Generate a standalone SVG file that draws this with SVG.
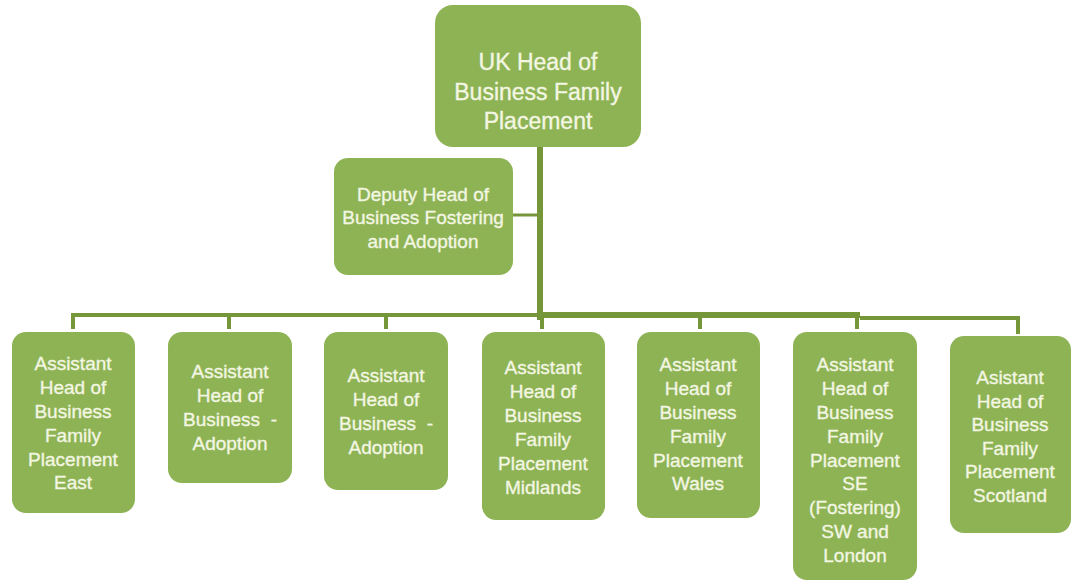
<svg xmlns="http://www.w3.org/2000/svg" width="1071" height="582" viewBox="0 0 1071 582">
  <style>
    .box { fill: #8db354; }
    .t { font-family: "Liberation Sans", Arial, sans-serif; fill: #f3f6e2; stroke: #f3f6e2; stroke-width: 0.35px; text-anchor: middle; dominant-baseline: central; white-space: pre; }
    .t19 { font-size: 19px; }
    .t23 { font-size: 23px; }
    .ln { stroke: #76963a; fill: none; stroke-linecap: butt; }
  </style>
  <rect width="1071" height="582" fill="#ffffff"/>

  <!-- connectors -->
  <g id="connectors">
    <line class="ln" x1="540" y1="147" x2="540" y2="320" stroke-width="6"/>
    <line class="ln" x1="513" y1="215" x2="540" y2="215" stroke-width="3"/>
    <line class="ln" x1="71" y1="315" x2="540" y2="315" stroke-width="4"/>
    <line class="ln" x1="540" y1="315" x2="860" y2="315" stroke-width="6"/>
    <polyline class="ln" points="860,318 1018,318 1018,334" stroke-width="4"/>
    <line class="ln" x1="73" y1="313" x2="73" y2="329" stroke-width="4"/>
    <line class="ln" x1="229" y1="315" x2="229" y2="329" stroke-width="4"/>
    <line class="ln" x1="386" y1="315" x2="386" y2="329" stroke-width="4"/>
    <line class="ln" x1="542" y1="315" x2="542" y2="329" stroke-width="4"/>
    <line class="ln" x1="700" y1="315" x2="700" y2="329" stroke-width="4"/>
    <line class="ln" x1="857" y1="315" x2="857" y2="329" stroke-width="4"/>
  </g>

  <g id="uk-head">
    <rect class="box" x="435" y="5" width="206" height="142" rx="18"/>
    <text class="t t23" x="538" y="62">UK Head of</text>
    <text class="t t23" x="538" y="92">Business Family</text>
    <text class="t t23" x="538" y="121">Placement</text>
  </g>

  <g id="deputy-head">
    <rect class="box" x="334" y="158" width="179" height="117" rx="14"/>
    <text class="t t19" x="423" y="194">Deputy Head of</text>
    <text class="t t19" x="423" y="217">Business Fostering</text>
    <text class="t t19" x="423" y="241">and Adoption</text>
  </g>

  <g id="assistant-east">
    <rect class="box" x="12" y="332" width="123" height="181" rx="14"/>
    <text class="t t19" x="73" y="363">Assistant</text>
    <text class="t t19" x="73" y="387">Head of</text>
    <text class="t t19" x="73" y="411">Business</text>
    <text class="t t19" x="73" y="435">Family</text>
    <text class="t t19" x="73" y="459">Placement</text>
    <text class="t t19" x="73" y="482">East</text>
  </g>

  <g id="assistant-adoption-1">
    <rect class="box" x="168" y="332" width="124" height="151" rx="14"/>
    <text class="t t19" x="230" y="371">Assistant</text>
    <text class="t t19" x="230" y="395">Head of</text>
    <text class="t t19" x="230" y="419" xml:space="preserve">Business  -</text>
    <text class="t t19" x="230" y="443">Adoption</text>
  </g>

  <g id="assistant-adoption-2">
    <rect class="box" x="324" y="332" width="124" height="158" rx="14"/>
    <text class="t t19" x="386" y="375">Assistant</text>
    <text class="t t19" x="386" y="399">Head of</text>
    <text class="t t19" x="386" y="423" xml:space="preserve">Business  -</text>
    <text class="t t19" x="386" y="447">Adoption</text>
  </g>

  <g id="assistant-midlands">
    <rect class="box" x="482" y="332" width="123" height="188" rx="14"/>
    <text class="t t19" x="543" y="367">Assistant</text>
    <text class="t t19" x="543" y="391">Head of</text>
    <text class="t t19" x="543" y="415">Business</text>
    <text class="t t19" x="543" y="439">Family</text>
    <text class="t t19" x="543" y="463">Placement</text>
    <text class="t t19" x="543" y="487">Midlands</text>
  </g>

  <g id="assistant-wales">
    <rect class="box" x="637" y="332" width="123" height="186" rx="14"/>
    <text class="t t19" x="698" y="364">Assistant</text>
    <text class="t t19" x="698" y="388">Head of</text>
    <text class="t t19" x="698" y="412">Business</text>
    <text class="t t19" x="698" y="436">Family</text>
    <text class="t t19" x="698" y="460">Placement</text>
    <text class="t t19" x="698" y="483">Wales</text>
  </g>

  <g id="assistant-se-sw-london">
    <rect class="box" x="793" y="332" width="124" height="248" rx="14"/>
    <text class="t t19" x="855" y="364">Assistant</text>
    <text class="t t19" x="855" y="388">Head of</text>
    <text class="t t19" x="855" y="412">Business</text>
    <text class="t t19" x="855" y="436">Family</text>
    <text class="t t19" x="855" y="460">Placement</text>
    <text class="t t19" x="855" y="483">SE</text>
    <text class="t t19" x="855" y="507">(Fostering)</text>
    <text class="t t19" x="855" y="531">SW and</text>
    <text class="t t19" x="855" y="555">London</text>
  </g>

  <g id="assistant-scotland">
    <rect class="box" x="950" y="336" width="121" height="197" rx="14"/>
    <text class="t t19" x="1010" y="377">Asistant</text>
    <text class="t t19" x="1010" y="401">Head of</text>
    <text class="t t19" x="1010" y="424">Business</text>
    <text class="t t19" x="1010" y="448">Family</text>
    <text class="t t19" x="1010" y="471">Placement</text>
    <text class="t t19" x="1010" y="495">Scotland</text>
  </g>
</svg>
